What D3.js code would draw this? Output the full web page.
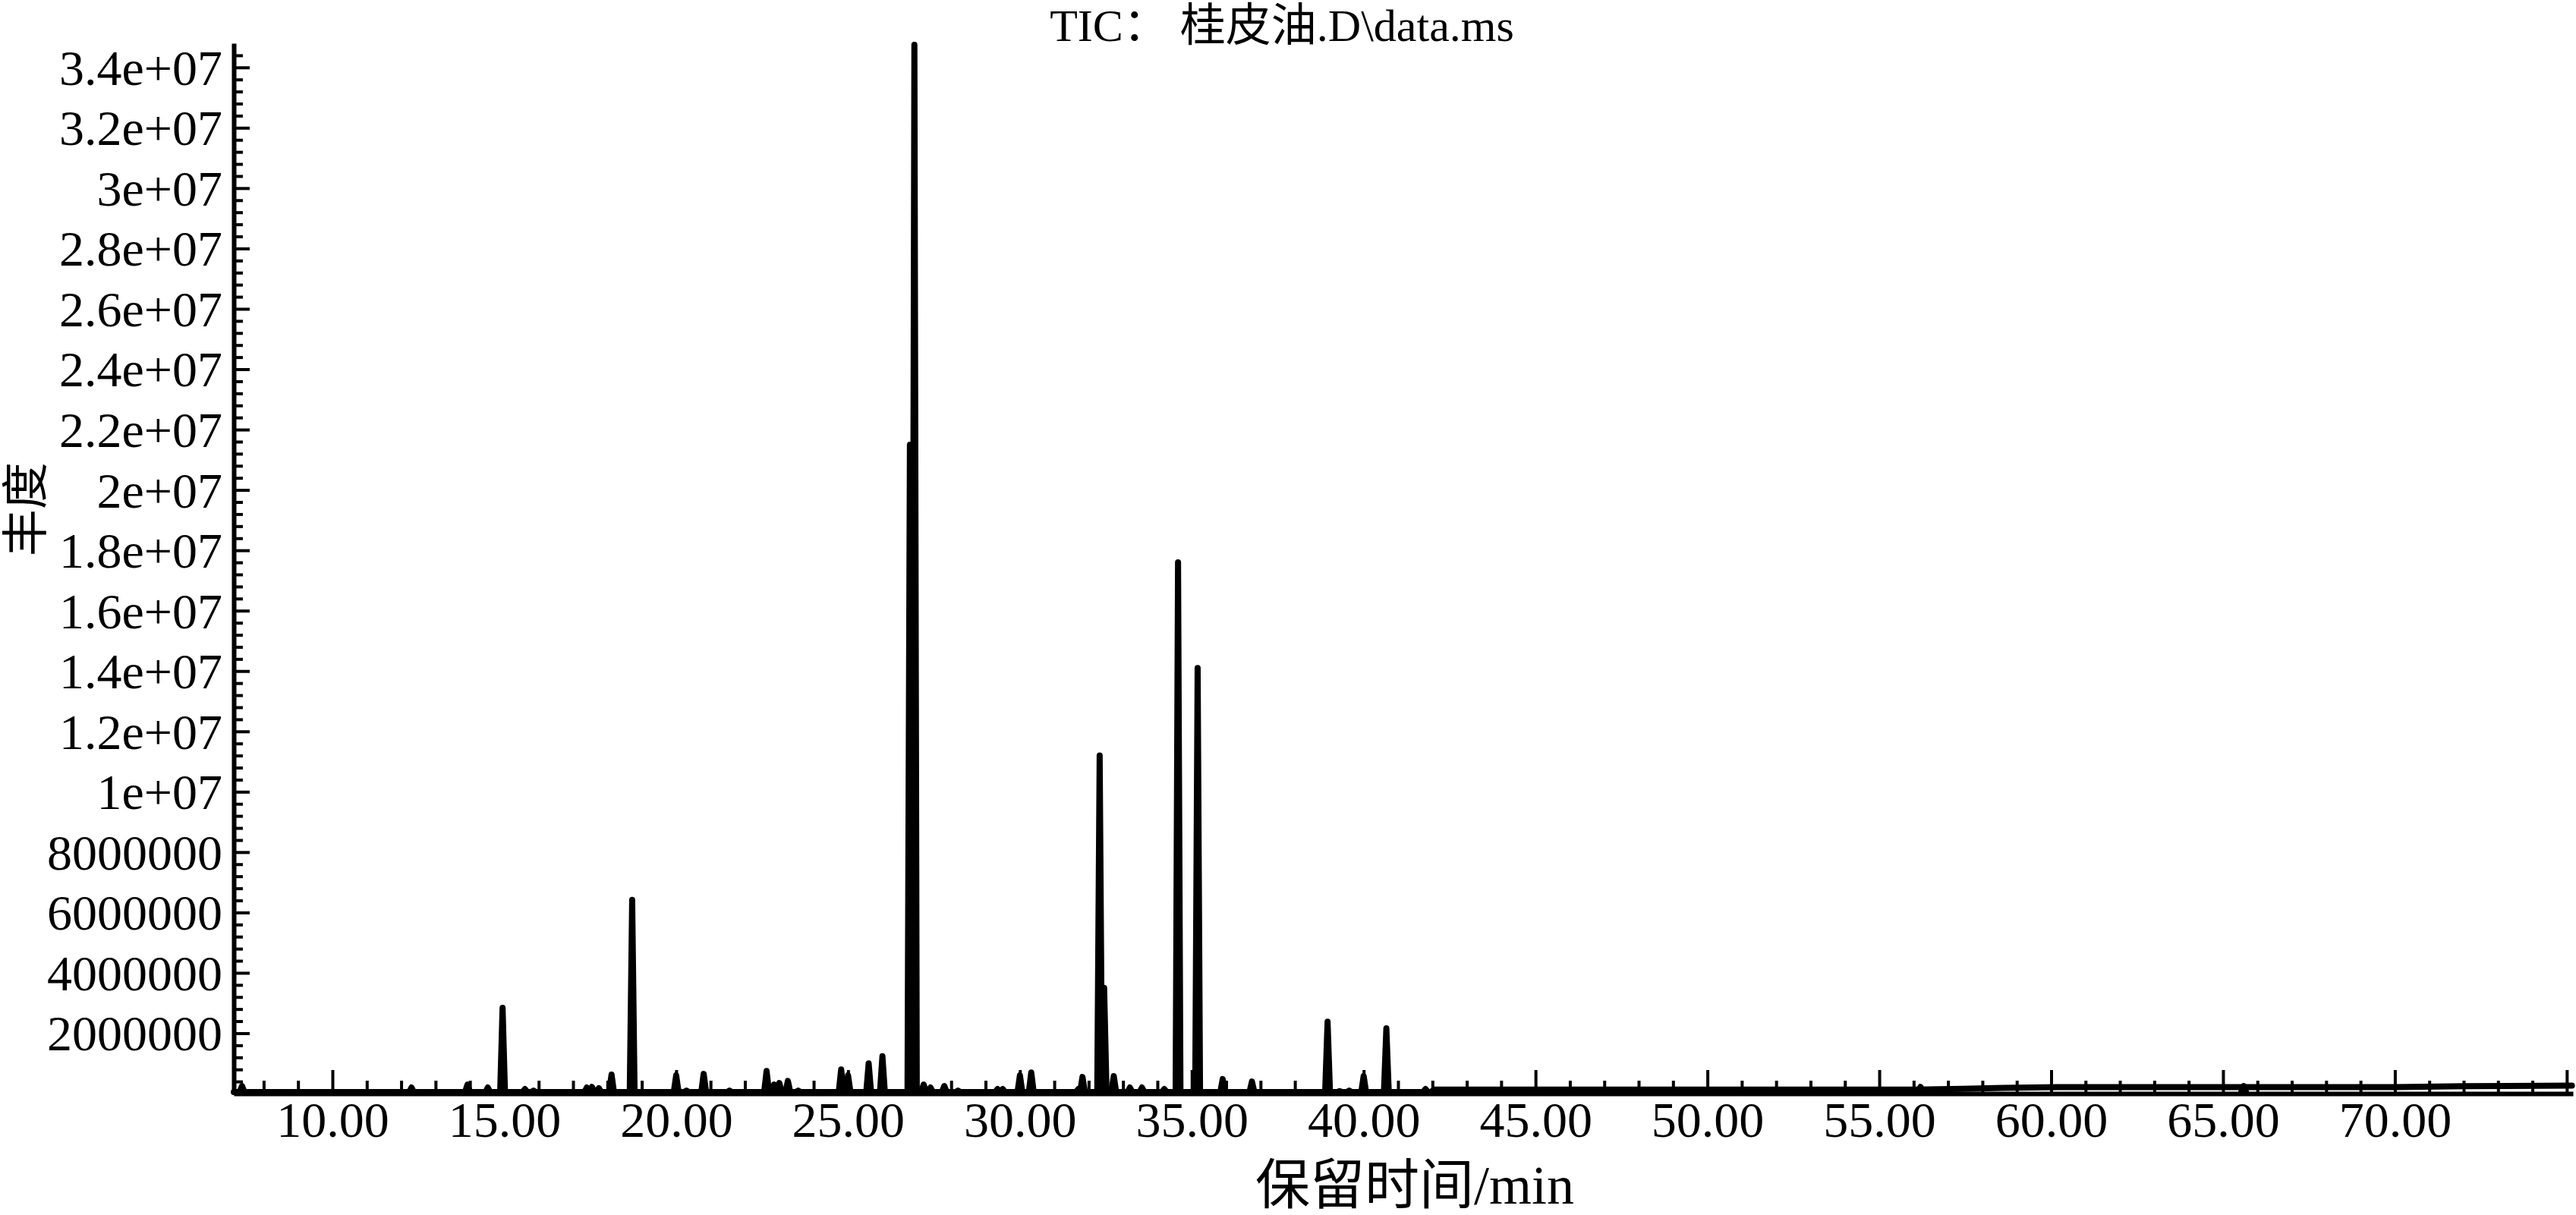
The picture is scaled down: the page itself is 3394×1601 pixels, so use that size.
<!DOCTYPE html>
<html>
<head>
<meta charset="utf-8">
<script src="https://cdn.jsdelivr.net/npm/d3@7/dist/d3.min.js"></script>
<style>
  html, body { margin: 0; padding: 0; background: #fff; }
  svg { display: block; }
  text { font-family: "Liberation Serif", "Noto Sans CJK SC", serif; fill: #000; }
</style>
</head>
<body>
<svg id="chart" width="3394" height="1601"></svg>
<script>
// ---------------- data ----------------
const titleText = "TIC： 桂皮油.D\\data.ms";
const xTitle = "保留时间/min";
const yTitle = "丰度";

// peak retention times (min) and apex abundances
const peakTimes = [7.37, 8.3, 8.5, 9.2, 12.3, 13.93, 14.52, 14.95, 15.6, 15.85,
  17.4, 17.55, 17.75, 18.12, 18.72, 20.0, 20.3, 20.8, 21.55, 22.63,
  22.85, 23.0, 23.25, 23.55, 24.8, 25.0, 25.6, 26.0, 26.8, 26.93,
  27.2, 27.4, 27.8, 28.2, 29.35, 29.5, 30.0, 30.33, 31.7, 31.82,
  32.32, 32.45, 32.73, 33.2, 33.55, 34.2, 34.6, 35.17, 35.9, 36.75,
  38.95, 39.3, 39.58, 40.0, 40.66, 41.8, 56.2, 65.6];
const peakHeights = [250000, 50000, 50000, 50000, 200000, 300000, 200000, 2840000, 150000, 100000,
  200000, 220000, 180000, 630000, 6420000, 600000, 100000, 650000, 100000, 750000,
  300000, 350000, 420000, 100000, 800000, 600000, 1000000, 1240000, 21500000, 34750000,
  300000, 200000, 250000, 100000, 150000, 150000, 600000, 700000, 150000, 550000,
  11200000, 3500000, 580000, 200000, 200000, 150000, 17600000, 14100000, 480000, 400000,
  2380000, 80000, 100000, 580000, 2160000, 150000, 220000, 250000];

// baseline (column bleed) of the trace
const baselineTimes  = [7.13, 41.95, 42.05, 56.0, 57.4, 58.6, 60.2, 70.0, 72.0, 75.15];
const baselineValues = [50000, 50000, 130000, 130000, 160000, 190000, 215000, 215000, 245000, 265000];

// axis ticks
const xMajorTicks = [10, 15, 20, 25, 30, 35, 40, 45, 50, 55, 60, 65, 70, 75];
const xTickLabels = ["10.00", "15.00", "20.00", "25.00", "30.00", "35.00", "40.00",
  "45.00", "50.00", "55.00", "60.00", "65.00", "70.00", ""];
const xMinorTicks = d3.range(8, 76, 1).filter(v => v % 5 !== 0);

const yMajorTicks = [2e6, 4e6, 6e6, 8e6, 1e7, 1.2e7, 1.4e7, 1.6e7, 1.8e7, 2e7,
  2.2e7, 2.4e7, 2.6e7, 2.8e7, 3e7, 3.2e7, 3.4e7];
const yTickLabels = ["2000000", "4000000", "6000000", "8000000", "1e+07", "1.2e+07",
  "1.4e+07", "1.6e+07", "1.8e+07", "2e+07", "2.2e+07", "2.4e+07", "2.6e+07",
  "2.8e+07", "3e+07", "3.2e+07", "3.4e+07"];
const yMinorTicks = d3.range(1, 87).map(i => i * 4e5).filter(v => Math.round(v / 4e5) % 5 !== 0);

// ---------------- layout ----------------
const svg = d3.select("#chart");
const x = d3.scaleLinear().domain([7.13, 75.18]).range([308, 3390]);
const y = d3.scaleLinear().domain([0, 3.48e7]).range([1441, 57]);
const peakHalfWidth = 0.07; // min

// ---------------- trace ----------------
const line = d3.line().x(d => x(d[0])).y(d => y(d[1]));
const traceStyle = sel => sel.attr("fill", "none").attr("stroke", "#000")
  .attr("stroke-width", 8).attr("stroke-linejoin", "round").attr("stroke-linecap", "round");

svg.append("path")
  .datum(baselineTimes.map((t, i) => [t, baselineValues[i]]))
  .attr("d", line).call(traceStyle);

const base0 = baselineValues[0];
svg.append("g").selectAll("path")
  .data(peakTimes.map((t, i) => [[t - peakHalfWidth, base0], [t, peakHeights[i]], [t + peakHalfWidth, base0]]))
  .join("path")
  .attr("d", line).call(traceStyle);

// ---------------- axes ----------------
const axisStyle = g => {
  g.select(".domain").attr("stroke", "#000").attr("stroke-width", 6);
  g.selectAll(".tick line").attr("stroke", "#000").attr("stroke-width", 4);
};

// y axis: major
const yAxis = d3.axisLeft(y).tickValues(yMajorTicks)
  .tickFormat((d, i) => yTickLabels[i]).tickSizeInner(-21).tickSizeOuter(0).tickPadding(15);
svg.append("g").attr("transform", `translate(${x.range()[0]},0)`)
  .call(yAxis).call(axisStyle)
  .call(g => g.selectAll(".tick text").attr("font-size", 66)
    .attr("font-family", "Liberation Serif").attr("dy", "0.34em"));
// y axis: minor
svg.append("g").attr("transform", `translate(${x.range()[0]},0)`)
  .call(d3.axisLeft(y).tickValues(yMinorTicks).tickFormat("").tickSizeInner(-12).tickSizeOuter(0))
  .call(axisStyle).call(g => g.select(".domain").remove());

// x axis: major
const xAxis = d3.axisBottom(x).tickValues(xMajorTicks)
  .tickFormat((d, i) => xTickLabels[i]).tickSizeInner(-31).tickSizeOuter(0);
svg.append("g").attr("transform", `translate(0,${y(0)})`)
  .call(xAxis).call(axisStyle)
  .call(g => g.selectAll(".tick text").attr("font-size", 66)
    .attr("font-family", "Liberation Serif").attr("y", 57).attr("dy", 0));
// x axis: minor
svg.append("g").attr("transform", `translate(0,${y(0)})`)
  .call(d3.axisBottom(x).tickValues(xMinorTicks).tickFormat("").tickSizeInner(-17).tickSizeOuter(0))
  .call(axisStyle).call(g => g.select(".domain").remove());

// ---------------- titles ----------------
svg.append("text").attr("x", 1689).attr("y", 54).attr("text-anchor", "middle")
  .attr("font-size", 60).text(titleText);

svg.append("text").attr("x", 1864).attr("y", 1586).attr("text-anchor", "middle")
  .attr("font-size", 72).text(xTitle);

svg.append("text").attr("transform", "translate(35,671) rotate(-90)")
  .attr("text-anchor", "middle").attr("dominant-baseline", "central")
  .attr("font-size", 62).text(yTitle);
</script>
</body>
</html>
